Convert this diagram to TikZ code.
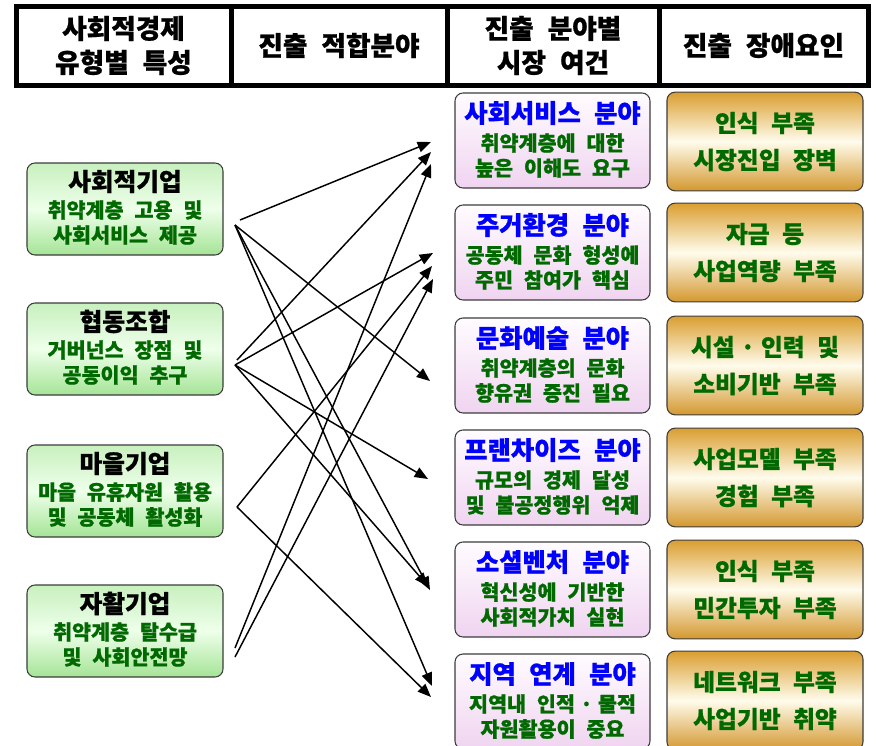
\documentclass[tikz,border=0pt]{standalone}
\usepackage{fontspec}
\newfontfamily\kr[WordSpace=2.3,BoldFeatures={FakeBold=0.8}]{Noto Sans CJK KR}
\usetikzlibrary{arrows.meta}
\definecolor{dgreen}{RGB}{0,105,0}
\definecolor{tblue}{RGB}{0,0,255}
\definecolor{lgTop}{RGB}{200,240,190}
\definecolor{lgMid}{RGB}{238,255,234}
\definecolor{lgBot}{RGB}{165,228,150}
\definecolor{mTop}{RGB}{255,252,255}
\definecolor{mBot}{RGB}{240,212,240}
\definecolor{rTop}{RGB}{218,158,48}
\definecolor{rMid}{RGB}{255,252,236}
\definecolor{rBot}{RGB}{212,152,48}
\definecolor{bord}{RGB}{60,60,60}
\newcommand\dotsp{\hspace{0.25em}·\hspace{0.25em}}
\newcommand\LB[5]{%
  \node[lbox] (#1) at (125,{#2+46}) {};
  \node[ltitle] (#1t) at (125,{#2+18.5}) {#3};
  \node[lsub] (#1a) at (125,{#2+47}) {#4};
  \node[lsub] (#1b) at (125,{#2+72}) {#5};}
\newcommand\MB[5]{%
  \node[mbox] (#1) at (552.5,{#2+47.5}) {};
  \node[mtitle] (#1t) at (552.5,{#2+20}) {#3};
  \node[msub] (#1a) at (552.5,{#2+50}) {#4};
  \node[msub] (#1b) at (552.5,{#2+75}) {#5};}
\newcommand\RB[4]{%
  \node[rbox] (#1) at (765,{#2+49.5}) {};
  \node[rtxt] (#1a) at (765,{#2+31}) {#3};
  \node[rtxt] (#1b) at (765,{#2+68}) {#4};}
\begin{document}
\begin{tikzpicture}[x=0.75pt,y=-0.75pt,
  hdr/.style={draw=black, line width=3.75pt, fill=white, minimum height=59.25pt, inner sep=0pt,
    align=center, font=\kr\bfseries\fontsize{20}{25.5}\selectfont},
  lbox/.style={draw=bord, line width=0.8pt, rounded corners=6pt, minimum width=147pt, minimum height=69pt,
    top color=lgTop, bottom color=lgBot, middle color=lgMid},
  mbox/.style={draw=bord, line width=0.8pt, rounded corners=6pt, minimum width=146.25pt, minimum height=71.25pt,
    top color=mTop, bottom color=mBot},
  rbox/.style={draw=bord, line width=0.8pt, rounded corners=6pt, minimum width=147pt, minimum height=74pt,
    top color=rTop, bottom color=rBot, middle color=rMid},
  ltitle/.style={inner sep=0pt, text=black, font=\kr\bfseries\fontsize{18.5}{20}\selectfont},
  lsub/.style={inner sep=0pt, text=dgreen, font=\kr\bfseries\fontsize{15.5}{17}\selectfont},
  mtitle/.style={inner sep=0pt, text=tblue, font=\kr\bfseries\fontsize{19}{20}\selectfont},
  msub/.style={inner sep=0pt, text=dgreen, font=\kr\bfseries\fontsize{15.5}{17}\selectfont},
  rtxt/.style={inner sep=0pt, text=dgreen, font=\kr\bfseries\fontsize{17.8}{19}\selectfont},
  arr/.style={-{Triangle[length=10pt,width=8pt]}, line width=1.1pt, black}]
\useasboundingbox (0,0) rectangle (876,746);
\clip (0,0) rectangle (876,746);
\fill[white] (0,0) rectangle (876,746);
% header
\node[hdr, minimum width=161.25pt] (h1) at (123.5,45.5) {사회적경제\\유형별 특성};
\node[hdr, minimum width=162pt] (h2) at (339,45.5) {진출 적합분야};
\node[hdr, minimum width=159pt] (h3) at (553,45.5) {진출 분야별\\시장 여건};
\node[hdr, minimum width=156.75pt] (h4) at (763.5,45.5) {진출 장애요인};
% left
\LB{se}{163}{사회적기업}{취약계층 고용 및}{사회서비스 제공}
\LB{co}{303}{협동조합}{거버넌스 장점 및}{공동이익 추구}
\LB{vi}{445}{마을기업}{마을 유휴자원 활용}{및 공동체 활성화}
\LB{sh}{585}{자활기업}{취약계층 탈수급}{및 사회안전망}
% middle
\MB{m1}{93}{사회서비스 분야}{취약계층에 대한}{높은 이해도 요구}
\MB{m2}{205}{주거환경 분야}{공동체 문화 형성에}{주민 참여가 핵심}
\MB{m3}{318}{문화예술 분야}{취약계층의 문화}{향유권 증진 필요}
\MB{m4}{430}{프랜차이즈 분야}{규모의 경제 달성}{및 불공정행위 억제}
\MB{m5}{542}{소셜벤처 분야}{혁신성에 기반한}{사회적가치 실현}
\MB{m6}{654}{지역 연계 분야}{지역내 인적\dotsp 물적}{자원활용이 중요}
% right
\RB{r1}{92}{인식 부족}{시장진입 장벽}
\RB{r2}{203}{자금 등}{사업역량 부족}
\RB{r3}{316}{시설\dotsp 인력 및}{소비기반 부족}
\RB{r4}{428}{사업모델 부족}{경험 부족}
\RB{r5}{540}{인식 부족}{민간투자 부족}
\RB{r6}{651}{네트워크 부족}{사업기반 취약}
% arrow ends
\coordinate (A1) at (240,220);
\coordinate (A) at (235,225);
\coordinate (B1) at (237,360);
\coordinate (B) at (235,365);
\coordinate (C) at (237,507);
\coordinate (D1) at (235,648);
\coordinate (D2) at (235,657);
\coordinate (e1a) at (431,142);
\coordinate (e1b) at (431,152);
\coordinate (e1c) at (431,164);
\coordinate (e2a) at (433,253);
\coordinate (e2b) at (432,266);
\coordinate (e2c) at (433,279);
\coordinate (e3) at (430,381);
\coordinate (e4) at (428,479);
\coordinate (e5a) at (428,586);
\coordinate (e5b) at (430,590);
\coordinate (e6a) at (432,686);
\coordinate (e6b) at (431,697);
\draw[arr] (A1) -- (e1a);
\draw[arr] (A) -- (e3);
\draw[arr] (A) -- (e5b);
\draw[arr] (A) -- (e6a);
\draw[arr] (B1) -- (e1b);
\draw[arr] (B) -- (e2a);
\draw[arr] (B) -- (e4);
\draw[arr] (B) -- (e5a);
\draw[arr] (C) -- (e2b);
\draw[arr] (C) -- (e6b);
\draw[arr] (D1) -- (e1c);
\draw[arr] (D2) -- (e2c);
\end{tikzpicture}
\end{document}
